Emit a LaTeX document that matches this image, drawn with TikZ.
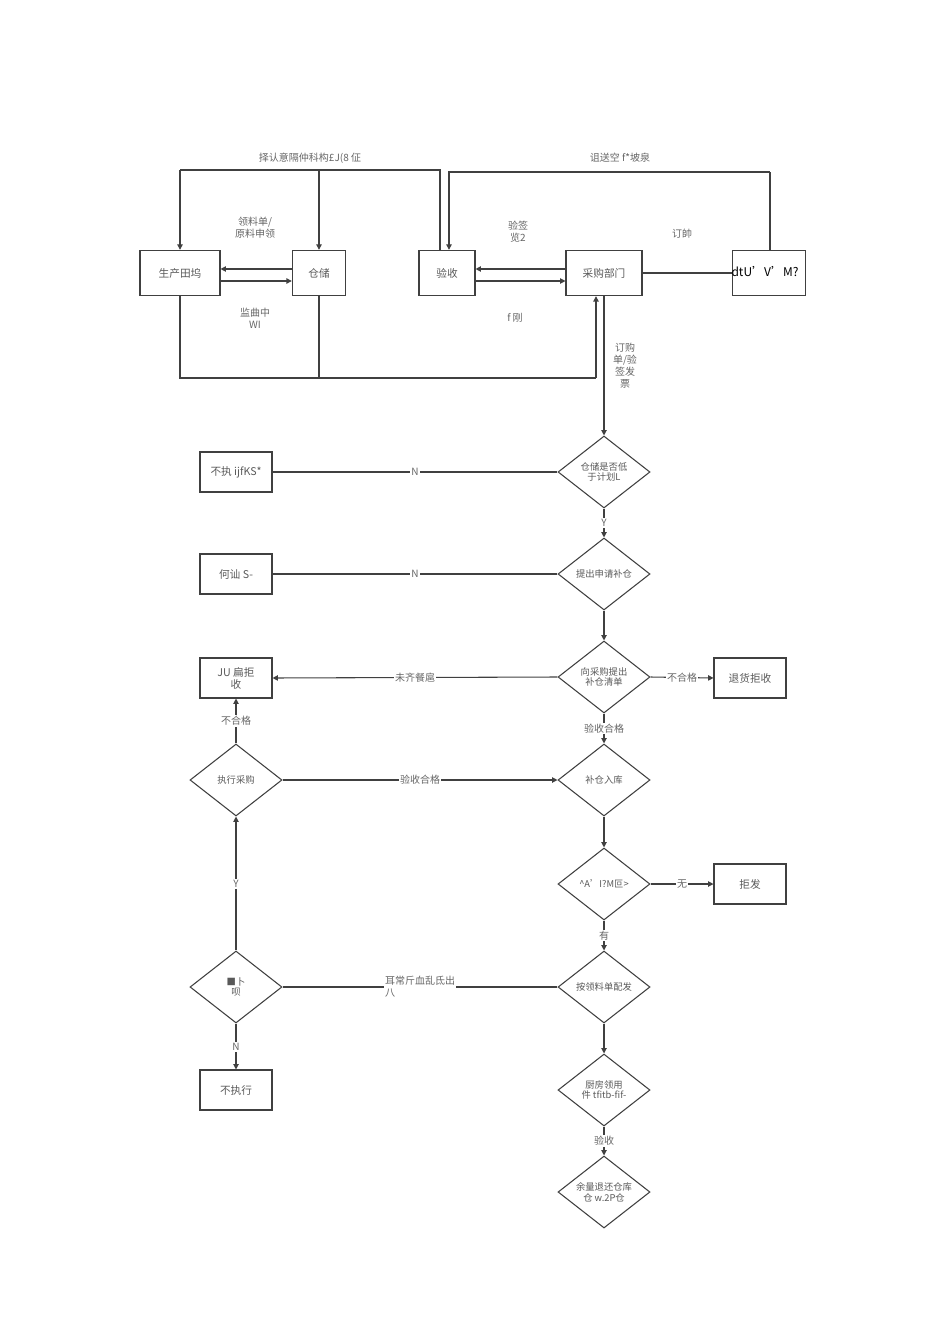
\documentclass[tikz,border=0pt]{standalone}
\usepackage{fontspec}
\setmainfont{Noto Sans CJK SC}
\usetikzlibrary{shapes.geometric,arrows.meta}
\begin{document}
\begin{tikzpicture}[x=0.75pt,y=-0.75pt,
  box/.style={draw=black!75,line width=0.8pt,minimum width=54pt,minimum height=30pt,inner sep=1pt,font=\fontsize{8}{9}\selectfont,text=black!65,align=center},
  dia/.style={draw=black!75,line width=0.8pt,diamond,aspect=1.3,minimum width=69pt,minimum height=54pt,inner sep=0pt,font=\fontsize{7}{8}\selectfont,text=black!65,align=center},
  ln/.style={draw=black!75,line width=0.8pt},
  ar/.style={ln,-{Triangle[length=4pt,width=4pt]}},
  lab/.style={font=\fontsize{7.5}{9}\selectfont,text=black!60,align=center,fill=white,inner sep=1pt}]
\useasboundingbox (0,0) rectangle (950,1344);
% top boxes
\node[box,minimum width=60pt,minimum height=34pt] (prod) at (180,273) {\textit{生产田坞}};
\node[box,minimum width=40pt,minimum height=34pt] (store) at (319,273) {仓储};
\node[box,minimum width=42pt,minimum height=34pt] (check) at (447,273) {验收};
\node[box,minimum width=57pt,minimum height=34pt] (buy) at (604,273) {采购部门};
\node[box,minimum width=55pt,minimum height=34pt] (sup) at (769,273) {};
\node[font=\fontsize{9}{10}\selectfont] at (765,272) {dtU'V'M?};
\coordinate (t1) at (180,170); \coordinate (t2) at (440,170);
\coordinate (t3) at (449,172); \coordinate (t4) at (770,172);
\draw[ln] (check.north -| t2) -- (t2) -- (t1);
\draw[ar] (t1) -- (prod.north);
\draw[ar] (store.north |- t1) -- (store.north);
\draw[ar] (t4) -- (t3) -- (t3 |- check.north);
\draw[ln] (sup.north -| t4) -- (t4);
\node[lab] at (310,158) {择认意隔仲科构£J(8 佂};
\node[lab] at (620,158) {诅送空 f*坡泉};
\draw[ar] ([yshift=3pt]store.west) -- ([yshift=3pt]prod.east);
\draw[ar] ([yshift=-6pt]prod.east) -- ([yshift=-6pt]store.west);
\draw[ar] ([yshift=3pt]buy.west) -- ([yshift=3pt]check.east);
\draw[ar] ([yshift=-6pt]check.east) -- ([yshift=-6pt]buy.west);
\draw[ln] (buy.east) -- (sup.west);
\node[lab] at (255,228) {领料单/\\原料申领};
\node[lab] at (255,318) {监曲中\\WI};
\node[lab] at (518,232) {验签\\览2};
\node[lab] at (515,318) {f 刚};
\node[lab] at (682,234) {订帥};
\coordinate (b1) at (180,378); \coordinate (b2) at (596,378);
\draw[ln] (prod.south) -- (b1) -- (b2);
\draw[ar] (b2) -- (b2 |- buy.south);
\draw[ln] (store.south) -- (store.south |- b1);
% main column
\node[dia] (d1) at (604,472) {仓储是否低\\于计划L};
\node[dia] (d2) at (604,574) {提出申请补仓};
\node[dia] (d3) at (604,677) {向采购提出\\补仓清单};
\node[dia] (d4) at (604,780) {补仓入库};
\node[dia] (d6) at (604,884) {\textasciicircum A'I?M叵>};
\node[dia] (d7) at (604,987) {按领料单配发};
\node[dia] (d9) at (604,1090) {厨房领用\\件 tfitb-fif-};
\node[dia] (d10) at (604,1192) {余量退还仓库\\仓 w.2P仓};
\node[dia] (d5) at (236,780) {执行采购};
\node[dia] (d8) at (236,987) {■卜\\呗};
\node[box] (l1) at (236,472) {不执 ijfKS*};
\node[box] (l2) at (236,574) {何讪 S-};
\node[box] (l3) at (236,678) {JU 扁拒\\收};
\node[box] (r3) at (750,678) {退货拒收};
\node[box] (r6) at (750,884) {拒发};
\node[box] (l8) at (236,1090) {不执行};
\draw[ar] (buy.south) -- (d1.north);
\node[lab] at (625,366) {订购\\单/验\\签发\\票};
\draw[ln] (d1.west) -- node[lab]{N} (l1.east);
\draw[ln] (d2.west) -- node[lab]{N} (l2.east);
\draw[ar] (d1.south) -- node[lab]{Y} (d2.north);
\draw[ar] (d2.south) -- (d3.north);
\draw[ar] (d3.west) -- node[lab]{未齐餐扈} (l3.east);
\draw[ar] (d3.east) -- node[lab]{不合格} (r3.west);
\draw[ar] (d3.south) -- node[lab]{验收合格} (d4.north);
\draw[ar] (d5.north) -- node[lab]{不合格} (l3.south);
\draw[ar] (d5.east) -- node[lab]{验收合格} (d4.west);
\draw[ar] (d4.south) -- (d6.north);
\draw[ar] (d6.east) -- node[lab]{无} (r6.west);
\draw[ar] (d6.south) -- node[lab]{有} (d7.north);
\draw[ln] (d7.west) -- node[lab,align=left]{耳常斤血乱氐出\\八} (d8.east);
\draw[ar] (d8.north) -- node[lab]{Y} (d5.south);
\draw[ar] (d8.south) -- node[lab]{N} (l8.north);
\draw[ar] (d7.south) -- (d9.north);
\draw[ar] (d9.south) -- node[lab]{验收} (d10.north);
\end{tikzpicture}
\end{document}
